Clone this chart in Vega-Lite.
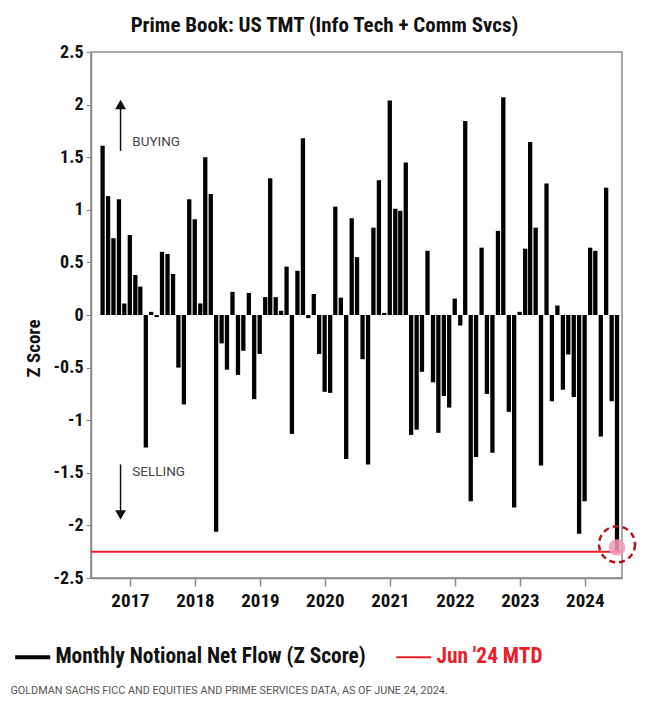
{
  "$schema": "https://vega.github.io/schema/vega-lite/v6.json",
  "width": 531,
  "height": 526,
  "autosize": "none",
  "padding": {"left": 91, "top": 52, "right": 45, "bottom": 134},
  "background": "white",
  "config": {
    "font": "Roboto Condensed, Liberation Sans Narrow, DejaVu Sans Condensed, Roboto, sans-serif",
    "view": {"stroke": "#8a8a8a", "strokeWidth": 1.5}
  },
  "title": {
    "text": "Prime Book: US TMT (Info Tech + Comm Svcs)",
    "fontSize": 21,
    "fontWeight": "bold",
    "color": "#111",
    "anchor": "middle",
    "dx": -32,
    "offset": 7
  },
  "datasets": {
    "flows": [
      {"date": "2016-07-31", "z": 1.61}, {"date": "2016-08-31", "z": 1.13}, {"date": "2016-09-30", "z": 0.73},
      {"date": "2016-10-31", "z": 1.10}, {"date": "2016-11-30", "z": 0.11}, {"date": "2016-12-31", "z": 0.76},
      {"date": "2017-01-31", "z": 0.38}, {"date": "2017-02-28", "z": 0.27}, {"date": "2017-03-31", "z": -1.26},
      {"date": "2017-04-30", "z": 0.03}, {"date": "2017-05-31", "z": -0.02}, {"date": "2017-06-30", "z": 0.60},
      {"date": "2017-07-31", "z": 0.58}, {"date": "2017-08-31", "z": 0.39}, {"date": "2017-09-30", "z": -0.50},
      {"date": "2017-10-31", "z": -0.85}, {"date": "2017-11-30", "z": 1.10}, {"date": "2017-12-31", "z": 0.91},
      {"date": "2018-01-31", "z": 0.11}, {"date": "2018-02-28", "z": 1.50}, {"date": "2018-03-31", "z": 1.15},
      {"date": "2018-04-30", "z": -2.06}, {"date": "2018-05-31", "z": -0.27}, {"date": "2018-06-30", "z": -0.52},
      {"date": "2018-07-31", "z": 0.22}, {"date": "2018-08-31", "z": -0.57}, {"date": "2018-09-30", "z": -0.34},
      {"date": "2018-10-31", "z": 0.21}, {"date": "2018-11-30", "z": -0.80}, {"date": "2018-12-31", "z": -0.37},
      {"date": "2019-01-31", "z": 0.17}, {"date": "2019-02-28", "z": 1.30}, {"date": "2019-03-31", "z": 0.17},
      {"date": "2019-04-30", "z": 0.04}, {"date": "2019-05-31", "z": 0.46}, {"date": "2019-06-30", "z": -1.13},
      {"date": "2019-07-31", "z": 0.42}, {"date": "2019-08-31", "z": 1.68}, {"date": "2019-09-30", "z": -0.03},
      {"date": "2019-10-31", "z": 0.20}, {"date": "2019-11-30", "z": -0.37}, {"date": "2019-12-31", "z": -0.73},
      {"date": "2020-01-31", "z": -0.74}, {"date": "2020-02-29", "z": 1.03}, {"date": "2020-03-31", "z": 0.165},
      {"date": "2020-04-30", "z": -1.37}, {"date": "2020-05-31", "z": 0.92}, {"date": "2020-06-30", "z": 0.55},
      {"date": "2020-07-31", "z": -0.42}, {"date": "2020-08-31", "z": -1.42}, {"date": "2020-09-30", "z": 0.83},
      {"date": "2020-10-31", "z": 1.28}, {"date": "2020-11-30", "z": 0.02}, {"date": "2020-12-31", "z": 2.04},
      {"date": "2021-01-31", "z": 1.01}, {"date": "2021-02-28", "z": 0.99}, {"date": "2021-03-31", "z": 1.45},
      {"date": "2021-04-30", "z": -1.14}, {"date": "2021-05-31", "z": -1.09}, {"date": "2021-06-30", "z": -0.54},
      {"date": "2021-07-31", "z": 0.61}, {"date": "2021-08-31", "z": -0.64}, {"date": "2021-09-30", "z": -1.12},
      {"date": "2021-10-31", "z": -0.77}, {"date": "2021-11-30", "z": -0.88}, {"date": "2021-12-31", "z": 0.156},
      {"date": "2022-01-31", "z": -0.10}, {"date": "2022-02-28", "z": 1.845}, {"date": "2022-03-31", "z": -1.77},
      {"date": "2022-04-30", "z": -1.35}, {"date": "2022-05-31", "z": 0.64}, {"date": "2022-06-30", "z": -0.75},
      {"date": "2022-07-31", "z": -1.31}, {"date": "2022-08-31", "z": 0.80}, {"date": "2022-09-30", "z": 2.07},
      {"date": "2022-10-31", "z": -0.92}, {"date": "2022-11-30", "z": -1.83}, {"date": "2022-12-31", "z": 0.03},
      {"date": "2023-01-31", "z": 0.63}, {"date": "2023-02-28", "z": 1.645}, {"date": "2023-03-31", "z": 0.83},
      {"date": "2023-04-30", "z": -1.43}, {"date": "2023-05-31", "z": 1.25}, {"date": "2023-06-30", "z": -0.82},
      {"date": "2023-07-31", "z": 0.09}, {"date": "2023-08-31", "z": -0.71}, {"date": "2023-09-30", "z": -0.375},
      {"date": "2023-10-31", "z": -0.78}, {"date": "2023-11-30", "z": -2.08}, {"date": "2023-12-31", "z": -1.77},
      {"date": "2024-01-31", "z": 0.64}, {"date": "2024-02-29", "z": 0.61}, {"date": "2024-03-31", "z": -1.155},
      {"date": "2024-04-30", "z": 1.21}, {"date": "2024-05-31", "z": -0.82}, {"date": "2024-06-30", "z": -2.25}
    ],
    "mtd": [{"date": "2024-06-30", "z": -2.25}]
  },
  "layer": [
    {
      "data": {"name": "flows"},
      "mark": {"type": "bar", "width": 4.3},
      "encoding": {
        "x": {
          "field": "date", "type": "temporal",
          "scale": {"domain": [{"year": 2016, "month": 6, "date": 24, "utc": true}, {"year": 2024, "month": 6, "date": 30, "utc": true}]},
          "axis": {
            "tickCount": {"interval": "year", "step": 1},
            "format": "%Y",
            "grid": false,
            "domainColor": "#8a8a8a",
            "domainWidth": 1.5,
            "tickColor": "#8a8a8a",
            "tickWidth": 1.5,
            "tickSize": 8,
            "labelFontSize": 19,
            "labelFontWeight": "bold",
            "labelColor": "#111",
            "labelPadding": 5,
            "title": "GOLDMAN SACHS FICC AND EQUITIES AND PRIME SERVICES DATA, AS OF JUNE 24, 2024.",
            "titleFont": "Roboto, sans-serif",
            "titleFontSize": 10.8,
            "titleFontWeight": "normal",
            "titleColor": "#555",
            "titleAnchor": null,
            "titleAlign": "left",
            "titleBaseline": "middle",
            "titleX": -81,
            "titleY": 112
          }
        },
        "y": {
          "field": "z", "type": "quantitative",
          "scale": {"domain": [-2.5, 2.5], "nice": false},
          "axis": {
            "values": [-2.5, -2, -1.5, -1, -0.5, 0, 0.5, 1, 1.5, 2, 2.5],
            "labelExpr": "'' + datum.value",
            "grid": false,
            "domainColor": "#8a8a8a",
            "domainWidth": 1.5,
            "tickColor": "#8a8a8a",
            "tickSize": 5,
            "labelFontSize": 18,
            "labelFontWeight": "bold",
            "labelColor": "#111",
            "labelPadding": 3,
            "title": "Z Score",
            "titleFontSize": 19,
            "titleFontWeight": "bold",
            "titleColor": "#111",
            "titleX": -58,
            "titleY": 296,
            "titleAngle": -90,
            "titleAlign": "center",
            "titleBaseline": "middle"
          }
        },
        "color": {
          "datum": "Monthly Notional Net Flow (Z Score)",
          "type": "nominal",
          "scale": {"domain": ["Monthly Notional Net Flow (Z Score)", "Jun '24 MTD"], "range": ["#000000", "#e8202a"]},
          "legend": {
            "title": null,
            "orient": "none",
            "direction": "horizontal",
            "legendX": -69,
            "legendY": 594,
            "symbolType": "stroke",
            "symbolSize": 1225,
            "symbolStrokeWidth": 4,
            "labelFontSize": 21.4,
            "labelFontWeight": "bold",
            "labelColor": "#111",
            "labelOffset": 12,
            "columnPadding": 26,
            "labelLimit": 400,
            "encode": {
              "symbols": {"update": {"strokeWidth": {"signal": "datum.index == 1 ? 2 : 4"}}},
              "labels": {"update": {"fill": {"signal": "datum.index == 1 ? '#e8202a' : '#111111'"}}}
            }
          }
        }
      }
    },
    {
      "data": {"name": "mtd"},
      "mark": {"type": "rule", "strokeWidth": 2},
      "encoding": {
        "y": {"field": "z", "type": "quantitative"},
        "color": {"datum": "Jun '24 MTD", "type": "nominal"}
      }
    },
    {
      "data": {"name": "mtd"},
      "mark": {"type": "point", "filled": true, "shape": "circle", "size": 280, "color": "#f29bb8", "opacity": 0.85},
      "encoding": {
        "x": {"field": "date", "type": "temporal"},
        "y": {"datum": -2.21}
      }
    },
    {
      "data": {"name": "mtd"},
      "mark": {"type": "point", "filled": false, "shape": "circle", "size": 1300, "stroke": "#b5121b", "strokeWidth": 2.5, "strokeDash": [6, 4], "opacity": 1},
      "encoding": {
        "x": {"field": "date", "type": "temporal"},
        "y": {"datum": -2.18}
      }
    },
    {
      "data": {"values": [{}]},
      "layer": [
        {
          "mark": {"type": "rule", "color": "#111", "strokeWidth": 1.5},
          "encoding": {
            "x": {"datum": {"year": 2016, "month": 11, "date": 9, "utc": true}, "type": "temporal"},
            "y": {"datum": 1.56},
            "y2": {"datum": 1.98}
          }
        },
        {
          "mark": {"type": "point", "shape": "triangle-up", "filled": true, "color": "#111", "size": 120, "opacity": 1},
          "encoding": {
            "x": {"datum": {"year": 2016, "month": 11, "date": 9, "utc": true}, "type": "temporal"},
            "y": {"datum": 2.0}
          }
        },
        {
          "mark": {"type": "rule", "color": "#111", "strokeWidth": 1.5},
          "encoding": {
            "x": {"datum": {"year": 2016, "month": 11, "date": 9, "utc": true}, "type": "temporal"},
            "y": {"datum": -1.42},
            "y2": {"datum": -1.88}
          }
        },
        {
          "mark": {"type": "point", "shape": "triangle-down", "filled": true, "color": "#111", "size": 120, "opacity": 1},
          "encoding": {
            "x": {"datum": {"year": 2016, "month": 11, "date": 9, "utc": true}, "type": "temporal"},
            "y": {"datum": -1.9}
          }
        },
        {
          "mark": {"type": "text", "text": "BUYING", "align": "left", "baseline": "middle", "fontSize": 13.5, "color": "#444", "font": "Roboto, sans-serif"},
          "encoding": {
            "x": {"datum": {"year": 2017, "month": 1, "date": 14, "utc": true}, "type": "temporal"},
            "y": {"datum": 1.64}
          }
        },
        {
          "mark": {"type": "text", "text": "SELLING", "align": "left", "baseline": "middle", "fontSize": 13.5, "color": "#444", "font": "Roboto, sans-serif"},
          "encoding": {
            "x": {"datum": {"year": 2017, "month": 1, "date": 14, "utc": true}, "type": "temporal"},
            "y": {"datum": -1.49}
          }
        }
      ]
    }
  ]
}
